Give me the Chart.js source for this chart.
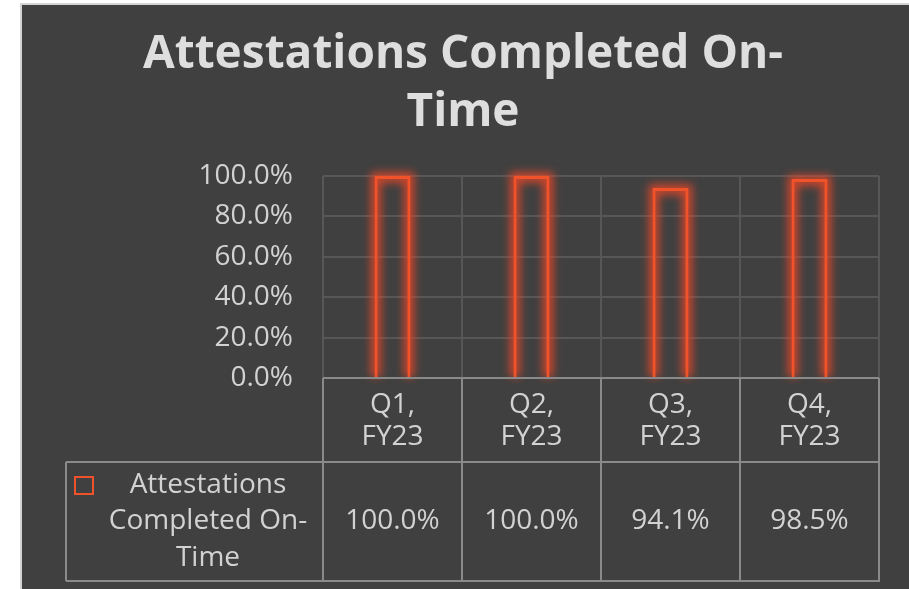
<!DOCTYPE html>
<html>
<head>
<meta charset="utf-8">
<script src="https://cdn.jsdelivr.net/npm/chart.js@4"></script>
<style>
    html, body { margin: 0; padding: 0; background: #ffffff; }
    #frame {
        position: absolute;
        left: 20px;
        top: 3px;
        width: 889px;
        height: 586px;
        border-left: 2px solid #d4d4d4;
        border-top: 2px solid #d4d4d4;
        background: #404040;
        box-sizing: border-box;
    }
    canvas { display: block; }
</style>
</head>
<body>
<div id="frame"><canvas id="chart" width="887" height="584"></canvas></div>
<script>
// dados do gráfico
const categories = [['Q1,', 'FY23'], ['Q2,', 'FY23'], ['Q3,', 'FY23'], ['Q4,', 'FY23']];
const seriesName = 'Attestations Completed On-Time';
const seriesLabelLines = ['Attestations', 'Completed On-', 'Time'];
const onTimePct = [100.0, 100.0, 94.1, 98.5];
const yTicks = [0, 20, 40, 60, 80, 100];
const titleLines = ['Attestations Completed On-', 'Time'];

const barColor = '#F0522A';
const gridColor = '#575757';
const tableColor = '#8a8a8a';
const textColor = '#d2d2d2';

Chart.defaults.font.family = '"Open Sans", sans-serif';

function fmtPct(v) {
    return v.toFixed(1) + '%';
}

// brilho em volta das barras
const glowPlugin = {
    id: 'glow',
    beforeDatasetsDraw(chart) {
        const ctx = chart.ctx;
        chart.getDatasetMeta(0).data.forEach(bar => {
            const p = bar.getProps(['x', 'y', 'base', 'width'], true);
            const l = p.x - p.width / 2 + 1.5;
            const r = p.x + p.width / 2 - 1.5;
            ctx.save();
            ctx.filter = 'blur(4px)';
            ctx.strokeStyle = 'rgba(235, 70, 40, 0.85)';
            ctx.lineWidth = 10;
            ctx.beginPath();
            ctx.moveTo(l, p.base);
            ctx.lineTo(l, p.y + 1.5);
            ctx.lineTo(r, p.y + 1.5);
            ctx.lineTo(r, p.base);
            ctx.stroke();
            ctx.restore();
        });
    }
};

// tabela de dados embaixo do gráfico
const tablePlugin = {
    id: 'dataTable',
    afterDraw(chart) {
        const ctx = chart.ctx;
        const xs = chart.scales.x;
        const top = chart.chartArea.bottom;
        const headH = 84;
        const rowH = 119;
        const rowLeft = 44;
        const colW = (xs.right - xs.left) / categories.length;

        ctx.save();
        ctx.strokeStyle = tableColor;
        ctx.lineWidth = 2;
        ctx.beginPath();
        // linha de cima do cabeçalho
        ctx.moveTo(xs.left, top);
        ctx.lineTo(xs.right, top);
        // linhas horizontais da linha de dados
        ctx.moveTo(rowLeft, top + headH);
        ctx.lineTo(xs.right, top + headH);
        ctx.moveTo(rowLeft, top + headH + rowH);
        ctx.lineTo(xs.right + 1, top + headH + rowH);
        // verticais
        for (let i = 0; i <= categories.length; i++) {
            const x = xs.left + i * colW;
            ctx.moveTo(x, top);
            ctx.lineTo(x, top + headH + rowH);
        }
        ctx.moveTo(rowLeft, top + headH);
        ctx.lineTo(rowLeft, top + headH + rowH);
        ctx.stroke();

        // chave da legenda
        ctx.strokeStyle = barColor;
        ctx.lineWidth = 2;
        ctx.strokeRect(53, top + headH + 15, 18, 17);

        ctx.fillStyle = textColor;
        ctx.font = '28px "Open Sans", sans-serif';
        ctx.textAlign = 'center';
        ctx.textBaseline = 'middle';
        const midY = top + headH + rowH / 2;
        seriesLabelLines.forEach((line, i) => {
            ctx.fillText(line, 186, midY + (i - 1) * 36.5);
        });
        onTimePct.forEach((v, i) => {
            ctx.fillText(fmtPct(v), xs.getPixelForValue(i), midY);
        });
        ctx.restore();
    }
};

const ctx = document.getElementById('chart').getContext('2d');
new Chart(ctx, {
    type: 'bar',
    data: {
        labels: categories,
        datasets: [{
            label: seriesName,
            data: onTimePct,
            backgroundColor: 'rgba(0,0,0,0)',
            borderColor: barColor,
            borderWidth: 3,
            barPercentage: 0.26,
            categoryPercentage: 1
        }]
    },
    options: {
        responsive: false,
        animation: false,
        layout: { padding: { left: 25, right: 30, top: 0, bottom: 0 } },
        plugins: {
            legend: { display: false },
            tooltip: { enabled: false },
            title: {
                display: true,
                text: titleLines,
                color: '#dedede',
                font: { family: '"Open Sans", sans-serif', size: 46, weight: 'bold', lineHeight: '58px' },
                padding: { top: 21, bottom: 34 }
            }
        },
        scales: {
            x: {
                grid: { color: gridColor, lineWidth: 2, drawTicks: false, offset: true },
                border: { display: false },
                ticks: {
                    color: textColor,
                    font: { size: 28, lineHeight: '32px' },
                    padding: 11,
                    maxRotation: 0,
                    autoSkip: false
                },
                afterFit(scale) { scale.height = 211; }
            },
            y: {
                min: 0,
                max: 100,
                grid: { color: gridColor, lineWidth: 2, drawTicks: false },
                border: { display: false },
                ticks: {
                    color: textColor,
                    font: { size: 28 },
                    padding: 30,
                    callback: v => fmtPct(v)
                },
                afterBuildTicks(scale) { scale.ticks = yTicks.map(v => ({ value: v })); },
                afterFit(scale) { scale.width = 276; }
            }
        }
    },
    plugins: [glowPlugin, tablePlugin]
});
</script>
</body>
</html>
